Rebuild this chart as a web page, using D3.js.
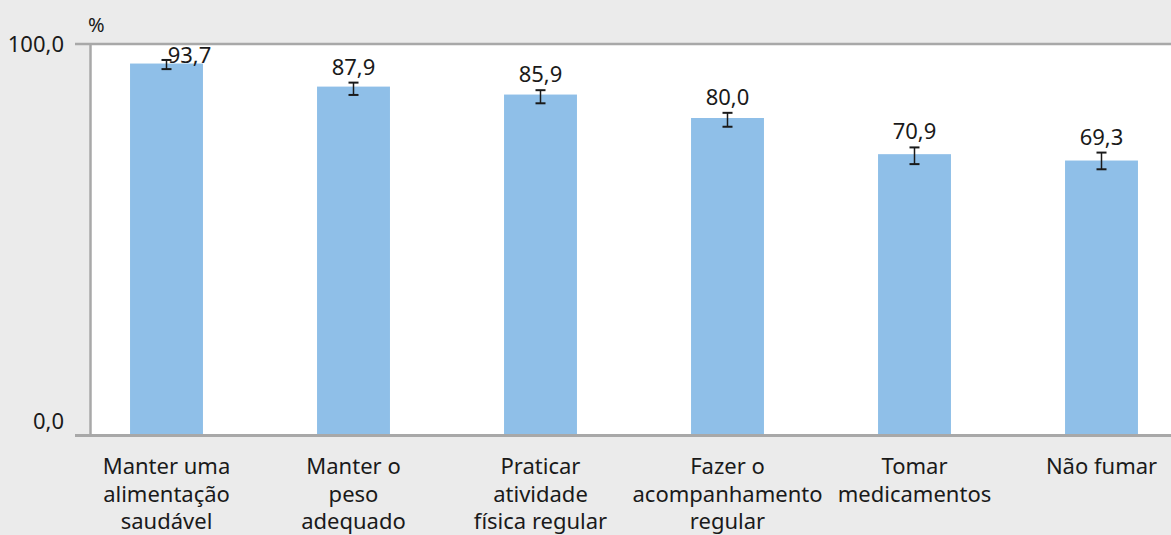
<!DOCTYPE html>
<html>
<head>
<meta charset="utf-8">
<script src="https://cdn.jsdelivr.net/npm/d3@7"></script>
<style>
  body { margin: 0; background: #ebebeb; }
  text { font-family: "Noto Sans", sans-serif; fill: #1a1a1a; }
</style>
</head>
<body>
<div id="chart"></div>
<script>
(function(){
    var width = 1171,
        height = 535;

    // dados
    var categorias = [
        ["Manter uma", "alimentação", "saudável"],
        ["Manter o", "peso", "adequado"],
        ["Praticar", "atividade", "física regular"],
        ["Fazer o", "acompanhamento", "regular"],
        ["Tomar", "medicamentos"],
        ["Não fumar"]
    ];
    var valores = [93.7, 87.9, 85.9, 80.0, 70.9, 69.3];
    var icInf = [92.3, 85.8, 83.7, 77.8, 68.4, 67.1];
    var icSup = [94.6, 88.9, 87.0, 81.3, 72.6, 71.3];
    var ticks = [0, 100];

    var barColor = "#8fbfe8";
    var axisColor = "#a8a8a8";

    var data = valores.map(function(v, i){
        return { i: i, v: v, lo: icInf[i], hi: icSup[i], cat: categorias[i] };
    });

    var svg = d3.select("#chart")
        .append("svg")
        .attr("width", width)
        .attr("height", height);

    var x = d3.scaleBand()
        .domain(d3.range(valores.length))
        .range([73, 1195])
        .paddingInner(0.61)
        .paddingOuter(0.305);

    var y = d3.scaleLinear()
        .domain([0, 100])
        .range([436, 38.5]);

    var fmt = function(v){ return d3.format(".1f")(v).replace(".", ","); };

    // area branca
    svg.append("rect")
        .attr("x", 90)
        .attr("y", 44)
        .attr("width", width - 90)
        .attr("height", 436 - 44)
        .attr("fill", "#fff");

    // barras
    svg.selectAll(".bar")
        .data(data)
        .enter().append("rect")
        .attr("class", "bar")
        .attr("x", function(d){ return x(d.i); })
        .attr("width", x.bandwidth())
        .attr("y", function(d){ return y(d.v); })
        .attr("height", function(d){ return y(0) - y(d.v); })
        .attr("fill", barColor);

    // barras de erro
    var eb = svg.selectAll(".eb")
        .data(data)
        .enter().append("g")
        .attr("class", "eb")
        .attr("transform", function(d){ return "translate(" + (x(d.i) + x.bandwidth() / 2) + ",0)"; });
    eb.append("line")
        .attr("y1", function(d){ return y(d.lo); })
        .attr("y2", function(d){ return y(d.hi); })
        .attr("stroke", "#1a1a1a").attr("stroke-width", 1.5);
    eb.append("line")
        .attr("x1", -5).attr("x2", 5)
        .attr("y1", function(d){ return y(d.lo); })
        .attr("y2", function(d){ return y(d.lo); })
        .attr("stroke", "#1a1a1a").attr("stroke-width", 2);
    eb.append("line")
        .attr("x1", -5).attr("x2", 5)
        .attr("y1", function(d){ return y(d.hi); })
        .attr("y2", function(d){ return y(d.hi); })
        .attr("stroke", "#1a1a1a").attr("stroke-width", 2);

    // rotulos de valor
    svg.selectAll(".val")
        .data(data)
        .enter().append("text")
        .attr("class", "val")
        .attr("text-anchor", "middle")
        .style("font-size", "22px")
        .attr("x", function(d){
            var cx = x(d.i) + x.bandwidth() / 2;
            // o primeiro fica deslocado pra nao bater na borda
            return d.i === 0 ? cx + 23 : cx;
        })
        .attr("y", function(d){
            return d.i === 0 ? y(d.hi) + 3 : y(d.hi) - 8;
        })
        .text(function(d){ return fmt(d.v); });

    // eixos / bordas
    svg.append("line")
        .attr("x1", 75).attr("x2", width)
        .attr("y1", 44).attr("y2", 44)
        .attr("stroke", axisColor).attr("stroke-width", 2.5);
    svg.append("line")
        .attr("x1", 90.5).attr("x2", 90.5)
        .attr("y1", 44).attr("y2", 436)
        .attr("stroke", axisColor).attr("stroke-width", 2.5);
    svg.append("line")
        .attr("x1", 75).attr("x2", width)
        .attr("y1", 435.5).attr("y2", 435.5)
        .attr("stroke", axisColor).attr("stroke-width", 3);

    // ticks y
    svg.selectAll(".tick")
        .data(ticks)
        .enter().append("text")
        .attr("class", "tick")
        .attr("text-anchor", "end")
        .style("font-size", "22px")
        .attr("x", 64)
        .attr("y", function(d){ return d === 0 ? y(d) - 7 : y(d) + 13; })
        .text(function(d){ return fmt(d); });

    svg.append("text")
        .attr("x", 88)
        .attr("y", 32)
        .style("font-size", "20px")
        .text("%");

    // categorias
    var cats = svg.selectAll(".cat")
        .data(data)
        .enter().append("text")
        .attr("class", "cat")
        .attr("text-anchor", "middle")
        .style("font-size", "22px")
        .attr("transform", function(d){ return "translate(" + (x(d.i) + x.bandwidth() / 2) + ",474)"; });
    cats.selectAll("tspan")
        .data(function(d){ return d.cat; })
        .enter().append("tspan")
        .attr("x", 0)
        .attr("y", function(d, j){ return j * 27.5; })
        .text(function(d){ return d; });
})();
</script>
</body>
</html>
